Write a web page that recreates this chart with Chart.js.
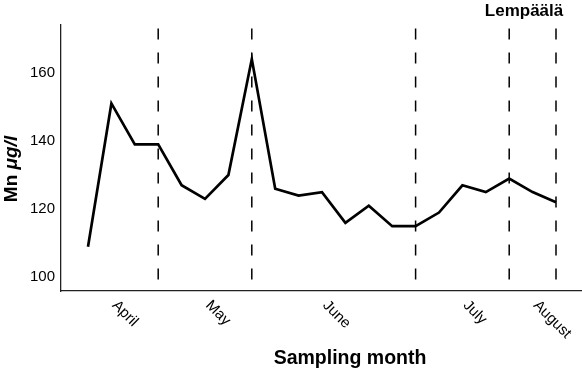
<!DOCTYPE html>
<html>
<head>
<meta charset="utf-8">
<script src="https://cdn.jsdelivr.net/npm/chart.js@4/dist/chart.umd.min.js"></script>
<style>
html,body{margin:0;padding:0;background:#fff;}
#wrap{width:582px;height:369px;position:relative;}
</style>
</head>
<body>
<div id="wrap"><canvas id="c"></canvas></div>
<script>
// ---- data ----
const mnValues = [109, 151, 139, 139, 127, 123, 130, 164, 126, 124, 125, 116, 121, 115, 115, 119, 127, 125, 129, 125, 122];
const monthBoundaries = [3, 7, 14, 18, 20];
const monthLabels = ['April', 'May', 'June', 'July', 'August'];
const monthLabelPos = [1, 5, 10, 16, 19];
const yTicks = [100, 120, 140, 160];
const siteName = 'Lempäälä';
const xTitle = 'Sampling month';
const yTitleMain = 'Mn ';
const yTitleUnit = 'μg/l';

const FONT = '"Liberation Sans", Arial, Helvetica, sans-serif';
const Y_MIN = 96, Y_MAX = 174;

const lineData = mnValues.map((v, i) => ({x: i, y: v}));
const datasets = [];
monthBoundaries.forEach(b => {
  datasets.push({
    data: [{x: b, y: 173}, {x: b, y: Y_MIN}],
    borderColor: '#000', borderWidth: 1.5, borderDash: [11, 13],
    pointRadius: 0, tension: 0, fill: false
  });
});
datasets.push({
  data: lineData, borderColor: '#000', borderWidth: 2.7,
  pointRadius: 0, tension: 0, fill: false, borderJoinStyle: 'miter'
});

const textPlugin = {
  id: 'texts',
  afterDraw(chart) {
    const ctx = chart.ctx;
    const xs = chart.scales.x;
    ctx.save();
    ctx.fillStyle = '#000';
    // month labels, rotated 45deg clockwise
    ctx.font = '15px ' + FONT;
    ctx.textAlign = 'left';
    ctx.textBaseline = 'middle';
    monthLabels.forEach((lab, i) => {
      const px = xs.getPixelForValue(monthLabelPos[i]);
      ctx.save();
      ctx.translate(px + 3, 303);
      ctx.rotate(Math.PI / 4);
      ctx.fillText(lab, 0, 0);
      ctx.restore();
    });
    // x title
    ctx.font = 'bold 19.5px ' + FONT;
    ctx.textAlign = 'center';
    ctx.textBaseline = 'alphabetic';
    ctx.fillText(xTitle, 350, 364);
    // site label
    ctx.font = 'bold 17px ' + FONT;
    ctx.fillText(siteName, 524, 16);
    // y title
    ctx.save();
    ctx.translate(17, 169);
    ctx.rotate(-Math.PI / 2);
    ctx.textAlign = 'left';
    const f1 = 'bold 19px ' + FONT, f2 = 'italic bold 19px ' + FONT;
    ctx.font = f1; const w1 = ctx.measureText(yTitleMain).width;
    ctx.font = f2; const w2 = ctx.measureText(yTitleUnit).width;
    const start = -(w1 + w2) / 2;
    ctx.font = f1; ctx.fillText(yTitleMain, start, 0);
    ctx.font = f2; ctx.fillText(yTitleUnit, start + w1, 0);
    ctx.restore();
    ctx.restore();
  }
};

new Chart(document.getElementById('c'), {
  type: 'line',
  data: { datasets },
  options: {
    responsive: true, maintainAspectRatio: false, animation: false,
    devicePixelRatio: 1,
    layout: { padding: { top: 25, right: 0, left: 0, bottom: 0 } },
    plugins: { legend: { display: false }, tooltip: { enabled: false } },
    scales: {
      x: {
        type: 'linear', min: -1.1538, max: 21.111,
        grid: { display: true, drawOnChartArea: false, drawTicks: false },
        border: { display: true, color: '#222', width: 1.3 },
        ticks: { display: false },
        afterFit(scale) { scale.height = 78; }
      },
      y: {
        type: 'linear', min: Y_MIN, max: Y_MAX,
        afterBuildTicks(scale) { scale.ticks = yTicks.map(v => ({value: v})); },
        grid: { display: true, drawOnChartArea: false, drawTicks: false },
        border: { display: true, color: '#222', width: 1.3 },
        ticks: { color: '#000', padding: 6, font: { size: 15, family: FONT } },
        afterFit(scale) { scale.width = 61; }
      }
    }
  },
  plugins: [textPlugin]
});
</script>
</body>
</html>
